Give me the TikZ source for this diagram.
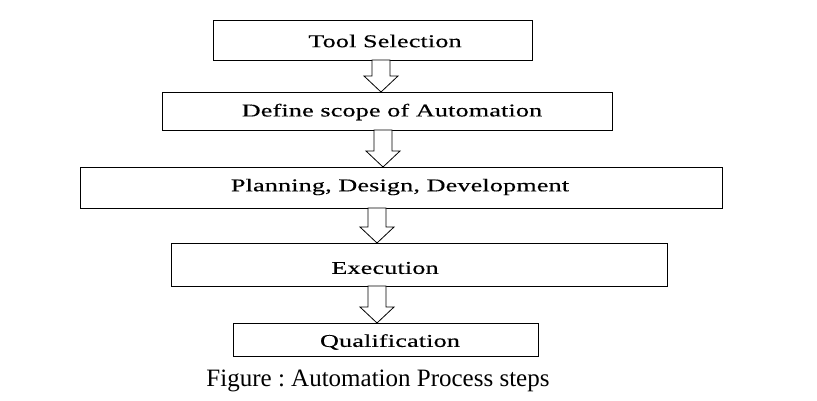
\documentclass[tikz,border=0pt]{standalone}
\usepackage{fontspec}
\setmainfont{Liberation Serif}
\newfontfamily\boxfont[FakeStretch=1.45,LetterSpace=1,FakeBold=0.4]{Liberation Serif}
\frenchspacing
\begin{document}
\begin{tikzpicture}[x=1pt,y=-1pt,
  stepbox/.style={draw=black, line width=0.8pt, inner sep=0pt, anchor=north west},
  steplabel/.style={inner sep=0pt, anchor=center, font=\boxfont\fontsize{18}{20}\selectfont},
  blockarrow/.style={draw=black, line width=0.8pt, fill=white, line join=miter}]
\useasboundingbox (0,0) rectangle (817,400);
\node[stepbox, minimum width=319pt, minimum height=40pt] (b1) at (213,20) {};
\node[stepbox, minimum width=450pt, minimum height=38pt] (b2) at (162,92) {};
\node[stepbox, minimum width=642pt, minimum height=41pt] (b3) at (80,167) {};
\node[stepbox, minimum width=496pt, minimum height=43pt] (b4) at (171,243) {};
\node[stepbox, minimum width=305pt, minimum height=33pt] (b5) at (233,323) {};
\node[steplabel] (t1) at (385,41) {Tool Selection};
\node[steplabel] (t2) at (392,112) {Define scope of Automation};
\node[steplabel] (t3) at (400,187) {Planning, Design, Development};
\node[steplabel] (t4) at (385,268) {Execution};
\node[steplabel] (t5) at (390,342) {Qualification};
\node[font=\fontsize{25}{28}\selectfont, anchor=center] (cap) at (378,381) {Figure : Automation Process steps};
% block arrows
\newcommand{\blockarr}[3]{% #1 x-centre, #2 top y, #3 tip y
  \draw[blockarrow] (#1-9,#2) -- (#1+9,#2) -- (#1+9,#3-16) -- (#1+17,#3-16) -- (#1,#3) -- (#1-17,#3-16) -- (#1-9,#3-16) -- cycle;}
\blockarr{381}{60}{92}
\blockarr{383}{130}{167}
\blockarr{377}{208}{243}
\blockarr{377}{286}{323}
\end{tikzpicture}
\end{document}
